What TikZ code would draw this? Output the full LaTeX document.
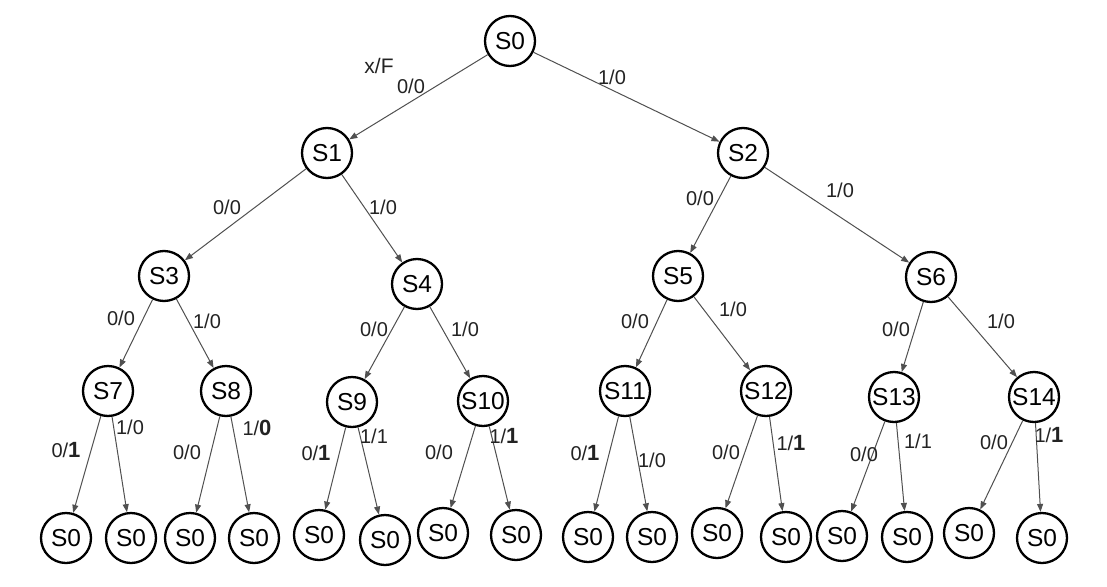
\documentclass[tikz,border=0pt]{standalone}
\usepackage{fontspec}
\setmainfont{Liberation Sans}
\usetikzlibrary{arrows.meta}
\definecolor{edgegray}{RGB}{80,80,80}
\definecolor{labgray}{RGB}{35,35,35}
\newcommand{\hw}[1]{{\fontsize{22}{22}\selectfont\bfseries #1}}
\begin{document}
\begin{tikzpicture}[x=1pt,y=-1pt,
  st/.style={circle,draw=black,line width=2.3pt,minimum size=50pt,inner sep=0pt,
    font=\fontsize{24.5}{24.5}\selectfont},
  edge/.style={draw=edgegray,line width=1pt,-{Triangle[length=8pt,width=6pt]}},
  lab/.style={text=labgray,font=\fontsize{20}{20}\selectfont,inner sep=0pt}]
\useasboundingbox[fill=white] (0,0) rectangle (1107,586);
% states
\node[st] (S0) at (510,41) {S0};
\node[st] (S1) at (327,153) {S1};
\node[st] (S2) at (743,153) {S2};
\node[st] (S3) at (164,276) {S3};
\node[st] (S4) at (417,284) {S4};
\node[st] (S5) at (678,276) {S5};
\node[st] (S6) at (931,277) {S6};
\node[st] (S7) at (108,391) {S7};
\node[st] (S8) at (226,391) {S8};
\node[st] (S9) at (352,402) {S9};
\node[st] (S10) at (483,401) {S10};
\node[st] (S11) at (625,391) {S11};
\node[st] (S12) at (766,391) {S12};
\node[st] (S13) at (894,397) {S13};
\node[st] (S14) at (1034,397) {S14};
% leaves
\node[st] (L1) at (66,538) {S0};
\node[st] (L2) at (131,538) {S0};
\node[st] (L3) at (190,538) {S0};
\node[st] (L4) at (254,538) {S0};
\node[st] (L5) at (319,535) {S0};
\node[st] (L6) at (385,540) {S0};
\node[st] (L7) at (443,533) {S0};
\node[st] (L8) at (516,535) {S0};
\node[st] (L9) at (588,537) {S0};
\node[st] (L10) at (652,537) {S0};
\node[st] (L11) at (717,533) {S0};
\node[st] (L12) at (786,537) {S0};
\node[st] (L13) at (842,536) {S0};
\node[st] (L14) at (907,537) {S0};
\node[st] (L15) at (969,533) {S0};
\node[st] (L16) at (1042,538) {S0};
% edges
\draw[edge] (S0) -- (S1);
\draw[edge] (S0) -- (S2);
\draw[edge] (S1) -- (S3);
\draw[edge] (S1) -- (S4);
\draw[edge] (S2) -- (S5);
\draw[edge] (S2) -- (S6);
\draw[edge] (S3) -- (S7);
\draw[edge] (S3) -- (S8);
\draw[edge] (S4) -- (S9);
\draw[edge] (S4) -- (S10);
\draw[edge] (S5) -- (S11);
\draw[edge] (S5) -- (S12);
\draw[edge] (S6) -- (S13);
\draw[edge] (S6) -- (S14);
\draw[edge] (S7) -- (L1);
\draw[edge] (S7) -- (L2);
\draw[edge] (S8) -- (L3);
\draw[edge] (S8) -- (L4);
\draw[edge] (S9) -- (L5);
\draw[edge] (S9) -- (L6);
\draw[edge] (S10) -- (L7);
\draw[edge] (S10) -- (L8);
\draw[edge] (S11) -- (L9);
\draw[edge] (S11) -- (L10);
\draw[edge] (S12) -- (L11);
\draw[edge] (S12) -- (L12);
\draw[edge] (S13) -- (L13);
\draw[edge] (S13) -- (L14);
\draw[edge] (S14) -- (L15);
\draw[edge] (S14) -- (L16);
% labels
\node[lab,font=\fontsize{21}{21}\selectfont] (xf) at (379,66) {x/F};
\node[lab] (l01) at (411,86) {0/0};
\node[lab] (l02) at (612,77) {1/0};
\node[lab] (l13) at (227,207) {0/0};
\node[lab] (l14) at (383,207) {1/0};
\node[lab] (l25) at (700,198) {0/0};
\node[lab] (l26) at (840,190) {1/0};
\node[lab] (l37) at (121,318) {0/0};
\node[lab] (l38) at (207,321) {1/0};
\node[lab] (l49) at (374,329) {0/0};
\node[lab] (l410) at (465,329) {1/0};
\node[lab] (l511) at (635,321) {0/0};
\node[lab] (l512) at (733,309) {1/0};
\node[lab] (l613) at (896,329) {0/0};
\node[lab] (l614) at (1001,321) {1/0};
\node[lab] (l7a) at (66,450) {0/\hw{1}};
\node[lab] (l7b) at (130,427) {1/0};
\node[lab] (l8a) at (187,452) {0/0};
\node[lab] (l8b) at (257,428) {1/\hw{0}};
\node[lab] (l9a) at (316,453) {0/\hw{1}};
\node[lab] (l9b) at (374,436) {1/1};
\node[lab] (l10a) at (439,452) {0/0};
\node[lab] (l10b) at (504,436) {1/\hw{1}};
\node[lab] (l11a) at (585,453) {0/\hw{1}};
\node[lab] (l11b) at (652,460) {1/0};
\node[lab] (l12a) at (726,452) {0/0};
\node[lab] (l12b) at (791,443) {1/\hw{1}};
\node[lab] (l13a) at (864,454) {0/0};
\node[lab] (l13b) at (918,441) {1/1};
\node[lab] (l14a) at (994,442) {0/0};
\node[lab] (l14b) at (1049,435) {1/\hw{1}};
\end{tikzpicture}
\end{document}
